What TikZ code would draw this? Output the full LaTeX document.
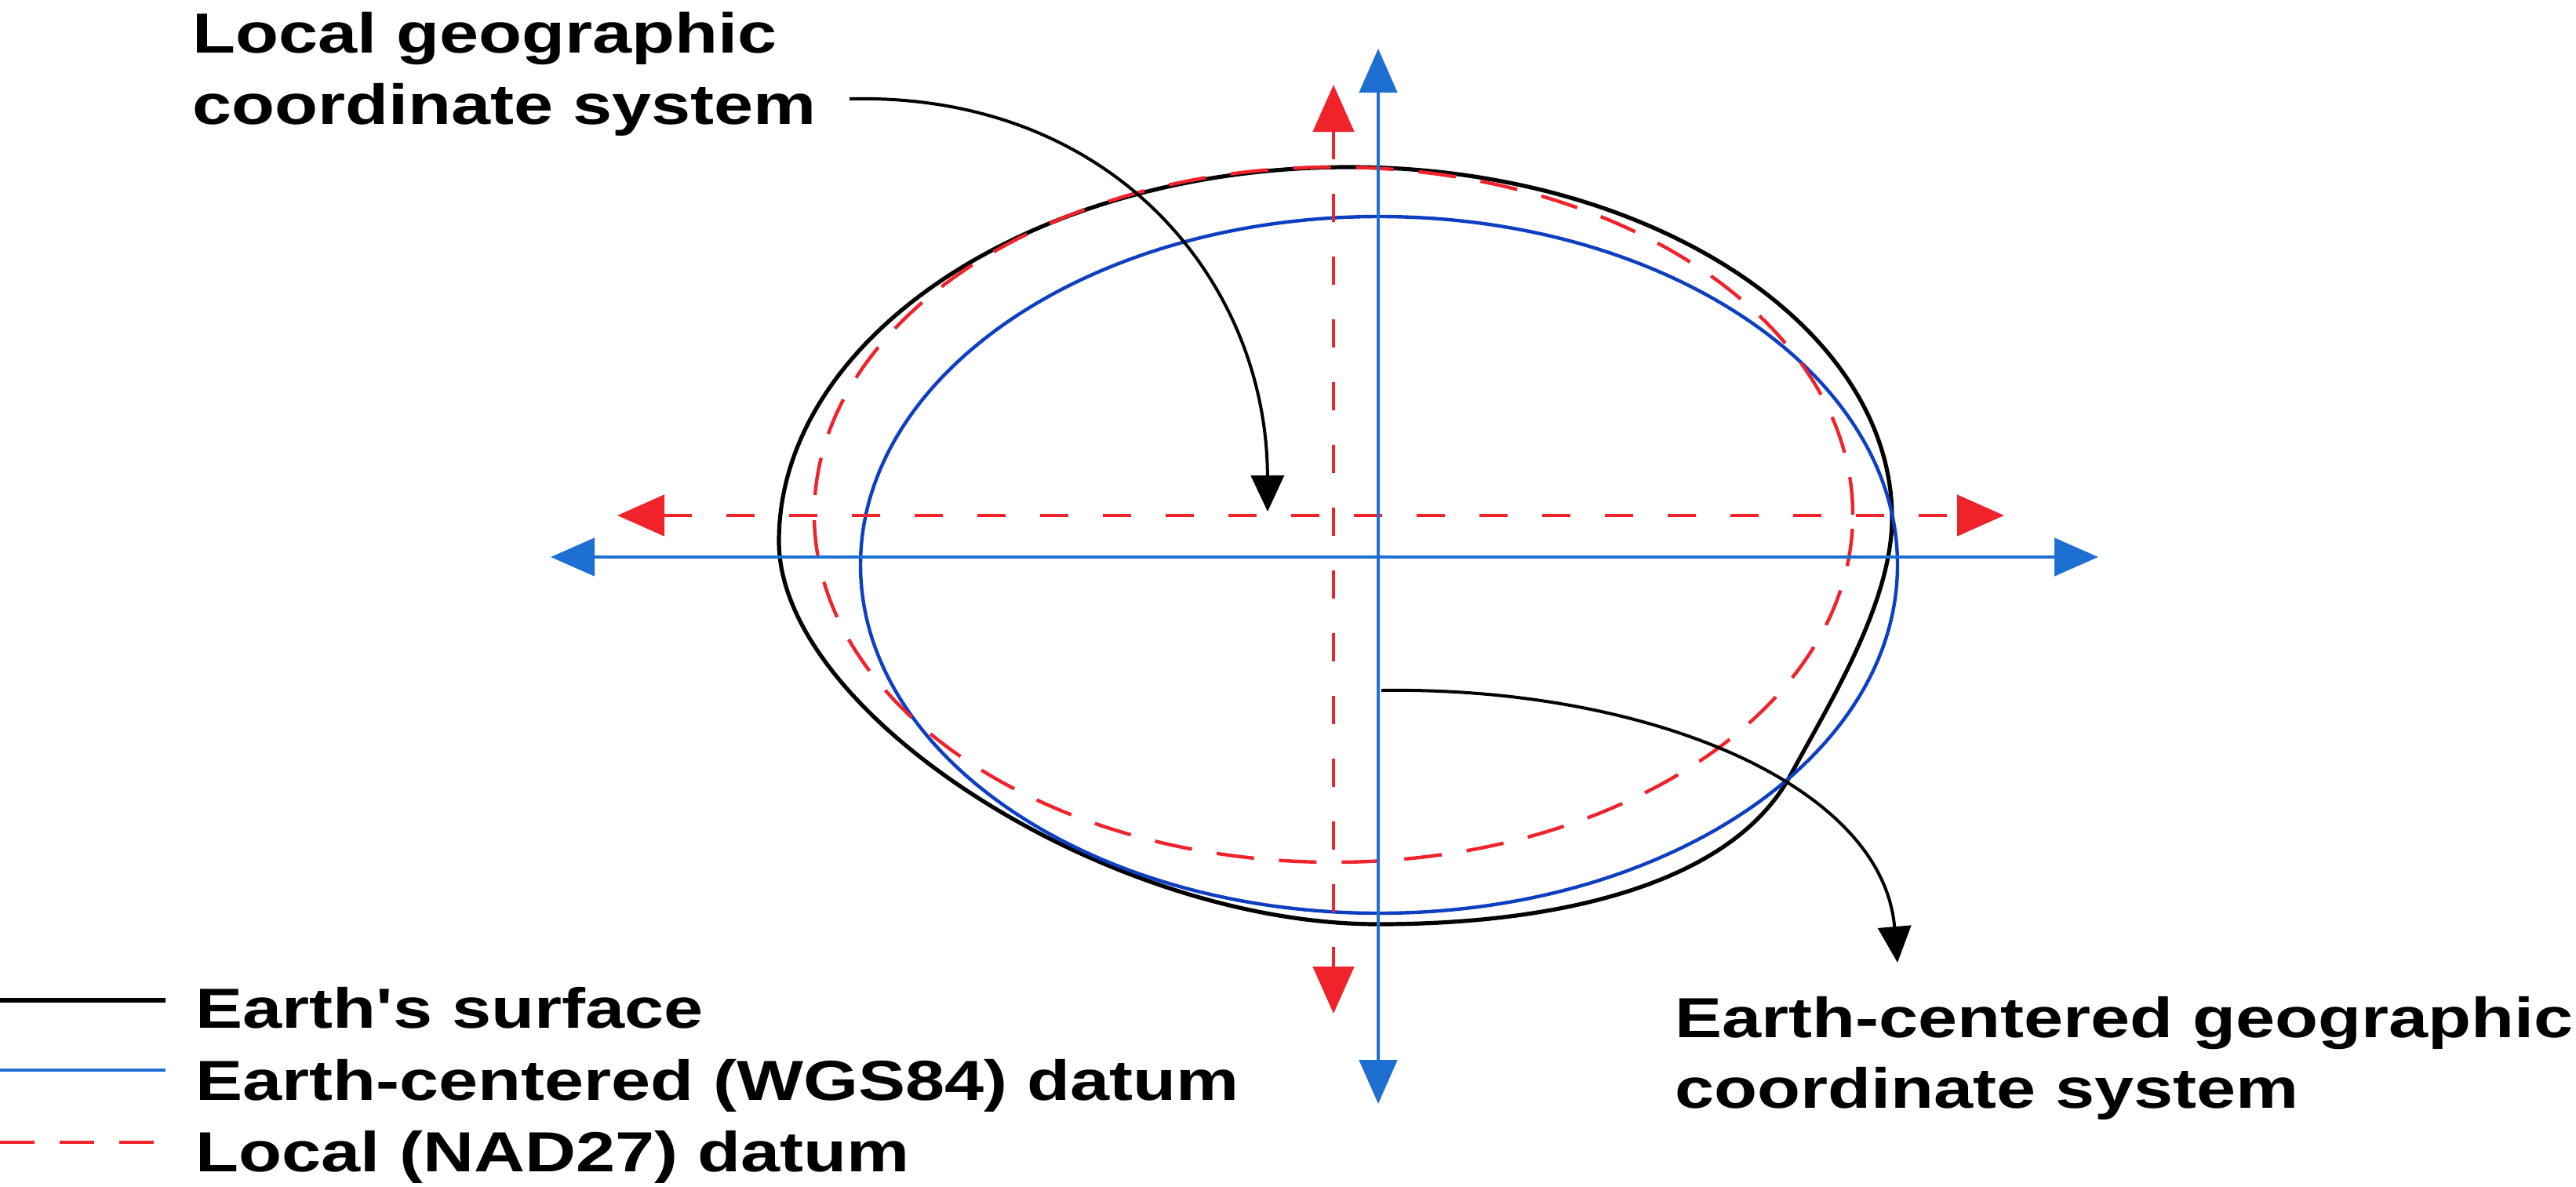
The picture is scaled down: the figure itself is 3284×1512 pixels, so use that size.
\documentclass[tikz,border=0pt]{standalone}
\usepackage{fontspec}
\newfontfamily\lblfont{Liberation Sans}[FakeStretch=1.25]
\usetikzlibrary{arrows.meta}
\definecolor{axblue}{HTML}{1E6FD2}
\definecolor{elblue}{HTML}{0D3FC2}
\definecolor{axred}{HTML}{F0222A}
\begin{document}
\begin{tikzpicture}[x=0.25pt,y=-0.25pt,
  lbl/.style={font=\lblfont\bfseries\fontsize{18pt}{23pt}\selectfont, anchor=base west, inner sep=0pt},
  blueaxis/.style={axblue, line width=1.2pt, {Triangle[length=14pt,width=12pt]}-{Triangle[length=14pt,width=12pt]}},
  redaxis/.style={axred, line width=1.2pt, dash pattern=on 9pt off 11pt, {Triangle[length=15pt,width=13pt]}-{Triangle[length=15pt,width=13pt]}},
  leader/.style={black, line width=1pt, -{Triangle[length=11.5pt,width=10.5pt]}},
  surface/.style={black, line width=1.3pt},
  wgs/.style={elblue, line width=1.1pt},
  nad/.style={axred, line width=1.1pt, dash pattern=on 12pt off 8pt}]
\useasboundingbox (0,0) rectangle (3284,1512);
% Earth's surface
\draw[surface] (1720,213) .. controls (2101,213) and (2412,414) .. (2412,660)
  .. controls (2412,770) and (2330,900) .. (2282,989)
  .. controls (2210,1122) and (2000,1178) .. (1757,1178)
  .. controls (1413,1178) and (993,910) .. (993,690)
  .. controls (993,428) and (1320,213) .. cycle;
% datums
\coordinate (bc) at (1758,720);
\coordinate (rc) at (1700,656);
\draw[wgs] (bc) ellipse [x radius=165.25pt, y radius=111pt];
\draw[nad] (rc) ellipse [x radius=165.5pt, y radius=110.75pt];
% red (local) axes
\coordinate (rl) at (787,657);
\coordinate (rr) at (2555,657);
\coordinate (rt) at (1700,108);
\coordinate (rb) at (1700,1292);
\draw[redaxis] (rl) -- (rr);
\draw[redaxis] (rt) -- (rb);
% blue (earth-centred) axes
\coordinate (bl) at (702,710);
\coordinate (br) at (2675,710);
\coordinate (bt) at (1757,62);
\coordinate (bb) at (1757,1407);
\draw[blueaxis] (bl) -- (br);
\draw[blueaxis] (bt) -- (bb);
% labels
\node[lbl] (loc1) at (245,67) {Local geographic};
\node[lbl] (loc2) at (245,158) {coordinate system};
\node[lbl] (ec1) at (2135,1322) {Earth-centered geographic};
\node[lbl] (ec2) at (2135,1412) {coordinate system};
% leaders
\coordinate (l1s) at (1083,126);
\coordinate (l1e) at (1616,652);
\draw[leader] (l1s) .. controls +(337,-8) and +(-1,-292) .. (l1e);
\coordinate (l2s) at (1761,880);
\coordinate (l2e) at (2419,1227);
\draw[leader] (l2s) .. controls +(339,-5) and +(-19,-227) .. (l2e);
% legend
\coordinate (k1a) at (0,1275); \coordinate (k1b) at (211,1275);
\coordinate (k2a) at (0,1364); \coordinate (k2b) at (211,1364);
\coordinate (k3a) at (0,1456); \coordinate (k3b) at (211,1456);
\draw[surface] (k1a) -- (k1b);
\draw[axblue, line width=1.2pt] (k2a) -- (k2b);
\draw[axred, line width=1.2pt, dash pattern=on 11pt off 8pt] (k3a) -- (k3b);
\node[lbl] (lg1) at (249,1310) {Earth's surface};
\node[lbl] (lg2) at (249,1402) {Earth-centered (WGS84) datum};
\node[lbl] (lg3) at (249,1493) {Local (NAD27) datum};
\end{tikzpicture}
\end{document}
